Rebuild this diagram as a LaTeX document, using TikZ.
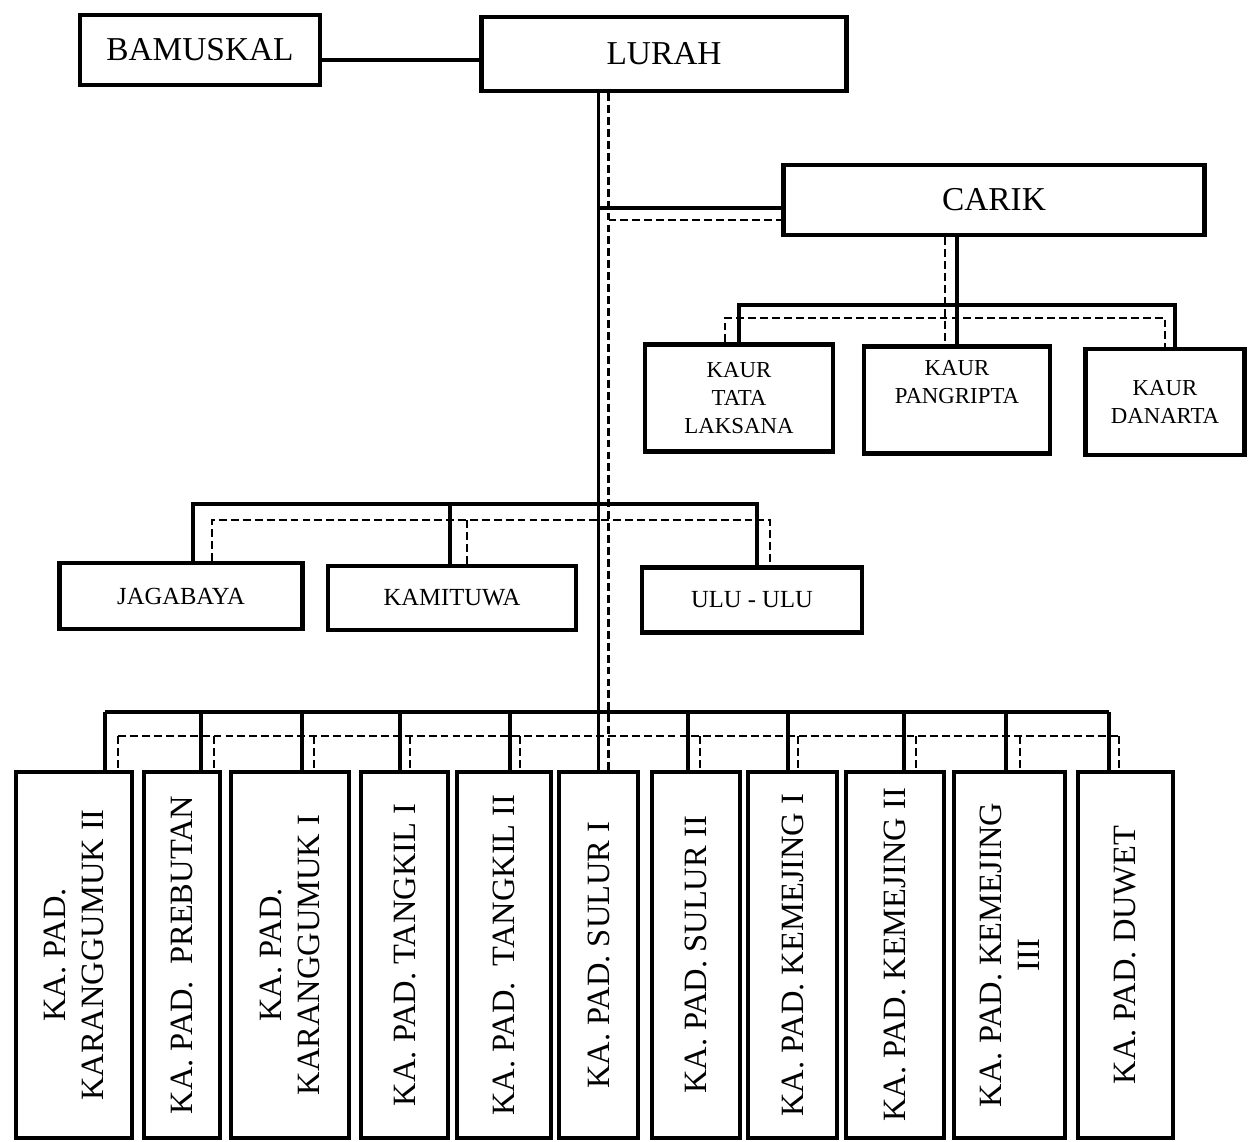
\documentclass[tikz,border=0pt]{standalone}
\usepackage{fontspec}
\setmainfont{Liberation Serif}
\usepackage{tikz}
\usetikzlibrary{calc}
\tikzstyle{box}=[draw, line width=2.4pt, fill=white, inner sep=0pt, align=center]
\tikzstyle{topbox}=[box, font=\fontsize{19}{22}\selectfont]
\tikzstyle{kaurbox}=[box, font=\fontsize{13}{16}\selectfont]
\tikzstyle{midbox}=[box, font=\fontsize{14}{16}\selectfont]
\tikzstyle{padbox}=[box, minimum height=7.32cm]
\tikzstyle{padtext}=[rotate=90, align=center, inner sep=0pt, font=\fontsize{18.5}{21.5}\selectfont]
\tikzset{komando/.style={line width=2pt},
  koordinasi/.style={line width=1.3pt, dash pattern=on 4.5pt off 2.3pt}}

\begin{document}
\begin{tikzpicture}[x=0.02cm, y=-0.02cm]
\useasboundingbox (0,0) rectangle (1248,1142);

\node[topbox, minimum width=4.8cm, minimum height=1.4cm] (bamuskal) at (200,50) {BAMUSKAL};
\node[topbox, minimum width=7.3cm, minimum height=1.48cm] (lurah) at (664,54) {LURAH};
\node[topbox, minimum width=8.42cm, minimum height=1.4cm] (carik) at (994,200) {CARIK};

\node[kaurbox, minimum width=3.76cm, minimum height=2.14cm] (tata) at (739,398) {KAUR\\TATA\\LAKSANA};
\node[kaurbox, minimum width=3.72cm, minimum height=2.14cm] (pangripta) at (957,400) {KAUR\\PANGRIPTA\\\strut};
\node[kaurbox, minimum width=3.18cm, minimum height=2.12cm] (danarta) at (1165,402) {KAUR\\DANARTA};

\node[midbox, minimum width=4.86cm, minimum height=1.32cm] (jagabaya) at (181,596) {JAGABAYA};
\node[midbox, minimum width=4.96cm, minimum height=1.28cm] (kamituwa) at (452,598) {KAMITUWA};
\node[midbox, minimum width=4.4cm, minimum height=1.3cm] (ulu) at (752,600) {ULU - ULU};

\foreach \n/\cx/\w/\txt in {
    p1/74/2.32/{KA. PAD.\\KARANGGUMUK II},
    p2/182/1.52/{KA. PAD.\ \ PREBUTAN},
    p3/290/2.36/{KA. PAD.\\KARANGGUMUK I},
    p4/404.5/1.74/{KA. PAD. TANGKIL I},
    p5/504/1.88/{KA. PAD.\ \ TANGKIL II},
    p6/598.5/1.58/{KA. PAD. SULUR I},
    p7/696/1.76/{KA. PAD. SULUR II},
    p8/792.5/1.78/{KA. PAD. KEMEJING I},
    p9/895/1.96/{KA. PAD. KEMEJING II},
    p10/1009.5/2.22/{KA. PAD. KEMEJING\\III},
    p11/1125.5/1.9/{KA. PAD. DUWET}} {
  \node[padbox, minimum width=\w cm] (\n) at (\cx,955) {};
  \node[padtext] (t\n) at (\n) {\txt};
}

\coordinate (dtr) at ([xshift=0.2cm]p6.north);
\coordinate (cs) at ($(carik.west)+(0,8)$);
\coordinate (cd) at ($(carik.west)+(0,20)$);
\coordinate (kbar) at (0,305);
\coordinate (kbard) at (0,318);
\coordinate (mbar) at (0,504);
\coordinate (mbard) at (0,520);
\coordinate (bbar) at (0,712);
\coordinate (bbard) at (0,736);

\draw[komando] ([yshift=-0.2cm]bamuskal.east) -- ([yshift=-0.2cm]bamuskal.east -| lurah.west);
\draw[komando] (lurah.south -| p6.north) -- (p6.north);
\draw[koordinasi] (lurah.south -| dtr) -- (dtr);
\draw[komando] (cs -| p6.north) -- (cs);
\draw[koordinasi] (cd -| dtr) -- (cd);

\draw[komando] (pangripta.north |- carik.south) -- (pangripta.north);
\draw[koordinasi] ([xshift=-0.24cm]pangripta.north |- carik.south) -- ([xshift=-0.24cm]pangripta.north);
\draw[komando] (tata.north) -- (tata.north |- kbar) -- (kbar -| 1175,0) -- (danarta.north -| 1175,0);
\draw[koordinasi] ([xshift=-0.28cm]tata.north) -- ([xshift=-0.28cm]tata.north |- kbard) -- (kbard -| danarta.north) -- (danarta.north);

\draw[komando] (jagabaya.north -| 193,0) -- (mbar -| 193,0) -- (mbar -| 757,0) -- (ulu.north -| 757,0);
\draw[komando] (mbar -| 450,0) -- (kamituwa.north -| 450,0);
\draw[koordinasi] (jagabaya.north -| 212,0) -- (mbard -| 212,0) -- (mbard -| 770,0) -- (ulu.north -| 770,0);
\draw[koordinasi] (mbard -| 467,0) -- (kamituwa.north -| 467,0);

\draw[komando] (bbar -| 105,0) -- (bbar -| 1109,0);
\draw[koordinasi] (bbard -| 118,0) -- (bbard -| 1119,0);
\foreach \n/\sx/\dx in {p1/105/118, p2/201/214, p3/302/314, p4/400/410, p5/510/520,
    p7/688/700, p8/788/798, p9/904/916, p10/1006/1020, p11/1109/1119} {
  \draw[komando] (bbar -| \sx,0) -- (\n.north -| \sx,0);
  \draw[koordinasi] (bbard -| \dx,0) -- (\n.north -| \dx,0);
}
\end{tikzpicture}
\end{document}
